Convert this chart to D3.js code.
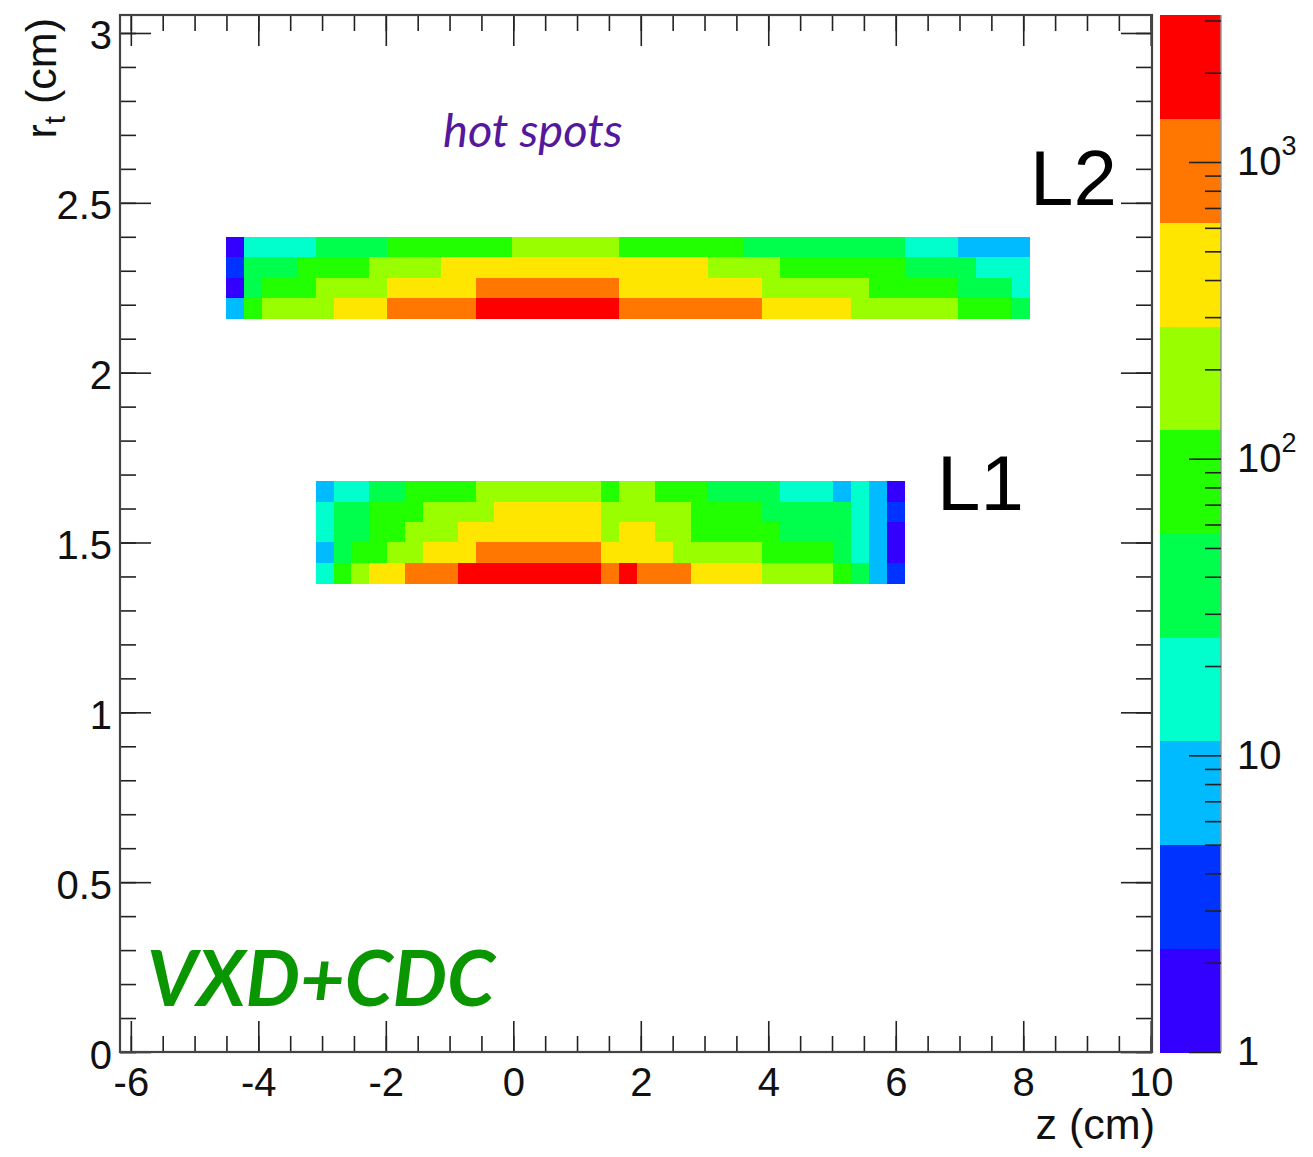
<!DOCTYPE html>
<html>
<head>
<meta charset="utf-8">
<script src="https://cdn.jsdelivr.net/npm/d3@7.9.0/dist/d3.min.js"></script>
<style>
  body { margin: 0; background: #fff; }
  svg { display: block; }
  .tick text { font-family: "Liberation Sans", Arial, sans-serif; fill: #111; }
</style>
</head>
<body>
<svg id="chart"></svg>
<script>
// z bins (cm): common grid, width 0.28
const binWidth = 0.28;
const l2Start = -4.5, l1Start = -3.1;
// r bins (cm), rows listed top to bottom, width 0.06
const rowHeight = 0.06;
const l2RowTops = [2.40, 2.34, 2.28, 2.22];
const l1RowTops = [1.68, 1.62, 1.56, 1.50, 1.44];

const l2Rows = [
  [[1.6,1],[17,4],[37,4],[82,7],[180,6],[82,7],[37,9],[17,3],[7.5,4]],
  [[3.5,1],[37,3],[82,4],[180,4],[400,15],[180,4],[82,7],[37,4],[17,3]],
  [[1.6,1],[37,1],[82,3],[180,4],[400,5],[900,8],[400,8],[180,6],[82,5],[37,3],[17,1]],
  [[7.5,1],[82,1],[180,4],[400,3],[900,5],[2000,8],[900,8],[400,5],[180,6],[82,3],[37,1]]
];
const l1Rows = [
  [[7.5,1],[17,2],[37,2],[82,4],[180,7],[82,1],[180,2],[82,3],[37,4],[17,3],[7.5,1],[17,1],[7.5,1],[1.6,1]],
  [[17,1],[37,2],[82,3],[180,4],[400,6],[180,5],[82,4],[37,5],[17,1],[7.5,1],[3.5,1]],
  [[17,1],[37,2],[82,2],[180,3],[400,8],[180,1],[400,2],[180,2],[82,5],[37,4],[17,1],[7.5,1],[1.6,1]],
  [[7.5,1],[37,1],[82,2],[180,2],[400,3],[900,7],[400,4],[180,5],[82,4],[37,1],[17,1],[7.5,1],[1.6,1]],
  [[17,1],[82,1],[180,1],[400,2],[900,3],[2000,8],[900,1],[2000,1],[900,3],[400,4],[180,4],[82,1],[37,1],[7.5,1],[3.5,1]]
];

const zMin = 1, zMax = 3130;
const palette = ["#3300ff","#0033ff","#00bbff","#00ffcc","#00ff4c","#22ff00","#99ff00","#ffe600","#ff7700","#ff0000"];

const xTicks = d3.range(-6, 10.01, 2);
const yTicks = d3.range(0, 3.01, 0.5);
const zTicks = [1, 10, 100, 1000];

const W = 1313, H = 1157;
const frame = {left: 120, right: 1152, top: 15, bottom: 1052};
const bar = {left: 1160, right: 1221};

const svg = d3.select("#chart").attr("width", W).attr("height", H);

const x = d3.scaleLinear().domain([-6.17, 10.02]).range([frame.left, frame.right]);
const y = d3.scaleLinear().domain([0, 3.05]).range([1052, 16]);
const cz = d3.scaleLog().domain([zMin, zMax]).range([frame.bottom, frame.top]);

// contour levels, equal steps in log
const step = Math.log10(zMax / zMin) / palette.length;
const levels = d3.range(palette.length + 1).map(k => zMin * Math.pow(10, k * step));
const color = d3.scaleThreshold().domain(levels.slice(1, -1)).range(palette);

// expand runs into cells
function cells(rows, rowTops, start) {
  const out = [];
  rows.forEach((runs, r) => {
    let i = 0;
    runs.forEach(([v, n]) => {
      for (let k = 0; k < n; k++, i++) {
        out.push({z: start + i * binWidth, r: rowTops[r] - rowHeight, v: v});
      }
    });
  });
  return out;
}
const data = cells(l2Rows, l2RowTops, l2Start).concat(cells(l1Rows, l1RowTops, l1Start));

svg.append("g")
  .attr("shape-rendering", "crispEdges")
  .selectAll("rect")
  .data(data)
  .enter()
  .append("rect")
  .attr("x", d => x(d.z))
  .attr("y", d => y(d.r + rowHeight))
  .attr("width", d => x(d.z + binWidth) - x(d.z) + 0.5)
  .attr("height", d => y(d.r) - y(d.r + rowHeight) + 0.5)
  .attr("fill", d => color(d.v));

// axes, ROOT style ticks pointing inward on all four sides
const fmt = d => String(d);
const xMinor = d3.range(-6, 10.01, 0.5);
const yMinor = d3.range(0, 3.001, 0.1).map(v => +v.toFixed(2));

function styleAxis(g) {
  g.select(".domain").remove();
  g.selectAll(".tick line").attr("stroke", "#222").attr("stroke-width", 1.6);
  g.selectAll(".tick text").attr("font-size", 40);
}

svg.append("g").attr("transform", `translate(0,${frame.bottom})`)
  .call(d3.axisBottom(x).tickValues(xMinor).tickSize(-16).tickFormat("")).call(styleAxis);
svg.append("g").attr("transform", `translate(0,${frame.bottom})`)
  .call(d3.axisBottom(x).tickValues(xTicks).tickSize(-31).tickPadding(16).tickFormat(fmt)).call(styleAxis);
svg.append("g").attr("transform", `translate(0,${frame.top})`)
  .call(d3.axisTop(x).tickValues(xMinor).tickSize(-16).tickFormat("")).call(styleAxis);
svg.append("g").attr("transform", `translate(0,${frame.top})`)
  .call(d3.axisTop(x).tickValues(xTicks).tickSize(-31).tickFormat("")).call(styleAxis);

svg.append("g").attr("transform", `translate(${frame.left},0)`)
  .call(d3.axisLeft(y).tickValues(yMinor).tickSize(-16).tickFormat("")).call(styleAxis);
svg.append("g").attr("transform", `translate(${frame.left},0)`)
  .call(d3.axisLeft(y).tickValues(yTicks).tickSize(-31).tickPadding(8).tickFormat(fmt)).call(styleAxis)
  .selectAll(".tick text").attr("dy", "0.40em");
svg.append("g").attr("transform", `translate(${frame.right},0)`)
  .call(d3.axisRight(y).tickValues(yMinor).tickSize(-16).tickFormat("")).call(styleAxis);
svg.append("g").attr("transform", `translate(${frame.right},0)`)
  .call(d3.axisRight(y).tickValues(yTicks).tickSize(-31).tickFormat("")).call(styleAxis);

svg.append("rect")
  .attr("x", frame.left).attr("y", frame.top)
  .attr("width", frame.right - frame.left).attr("height", frame.bottom - frame.top)
  .attr("fill", "none").attr("stroke", "#444").attr("stroke-width", 2.2);

// colour bar
svg.append("g")
  .attr("shape-rendering", "crispEdges")
  .selectAll("rect")
  .data(palette)
  .enter()
  .append("rect")
  .attr("x", bar.left)
  .attr("width", bar.right - bar.left)
  .attr("y", (c, i) => cz(levels[i + 1]))
  .attr("height", (c, i) => cz(levels[i]) - cz(levels[i + 1]) + 0.5)
  .attr("fill", c => c);
svg.append("line")
  .attr("x1", bar.right).attr("x2", bar.right)
  .attr("y1", frame.top).attr("y2", frame.bottom)
  .attr("stroke", "#999").attr("stroke-width", 1.5);

const zMinor = [];
[1, 10, 100, 1000].forEach(dec => d3.range(2, 10).forEach(m => { if (m * dec < zMax) zMinor.push(m * dec); }));

svg.append("g").attr("transform", `translate(${bar.right},0)`)
  .call(d3.axisRight(cz).tickValues(zMinor).tickSize(-16).tickFormat("")).call(styleAxis);
const zAxis = svg.append("g").attr("transform", `translate(${bar.right},0)`)
  .call(d3.axisRight(cz).tickValues(zTicks).tickSize(-32).tickPadding(16).tickFormat(d => d)).call(styleAxis);

zAxis.selectAll(".tick text").each(function(d) {
  const t = d3.select(this);
  const e = Math.round(Math.log10(d));
  if (e >= 2) {
    t.text("10");
    t.append("tspan").attr("font-size", 27).attr("dy", "-0.75em").text(e);
  }
});

// titles
svg.append("text")
  .attr("x", frame.right + 3).attr("y", 1139)
  .attr("text-anchor", "end")
  .attr("font-family", "Liberation Sans, Arial, sans-serif")
  .attr("font-size", 43).attr("fill", "#111")
  .text("z (cm)");

const yTitle = svg.append("text")
  .attr("transform", "translate(56,18) rotate(-90)")
  .attr("text-anchor", "end")
  .attr("font-family", "Liberation Sans, Arial, sans-serif")
  .attr("font-size", 43).attr("fill", "#111");
yTitle.append("tspan").text("r");
yTitle.append("tspan").attr("font-size", 30).attr("dy", 9).text("t");
yTitle.append("tspan").attr("dy", -9).text(" (cm)");

// annotations
svg.append("text")
  .attr("x", 443).attr("y", 147)
  .attr("font-family", "Lato, sans-serif").attr("font-style", "italic")
  .attr("font-size", 47).attr("fill", "#53189b")
  .text("hot spots");

svg.append("text")
  .attr("x", 1030).attr("y", 205)
  .attr("font-family", "Liberation Sans, Arial, sans-serif")
  .attr("font-size", 78).attr("fill", "#000")
  .text("L2");

svg.append("text")
  .attr("x", 937).attr("y", 510)
  .attr("font-family", "Liberation Sans, Arial, sans-serif")
  .attr("font-size", 78).attr("fill", "#000")
  .text("L1");

svg.append("text")
  .attr("x", 147).attr("y", 1006)
  .attr("font-family", "Lato, sans-serif").attr("font-style", "italic").attr("font-weight", 700)
  .attr("font-size", 77).attr("fill", "#0a9600")
  .text("VXD+CDC");
</script>
</body>
</html>
